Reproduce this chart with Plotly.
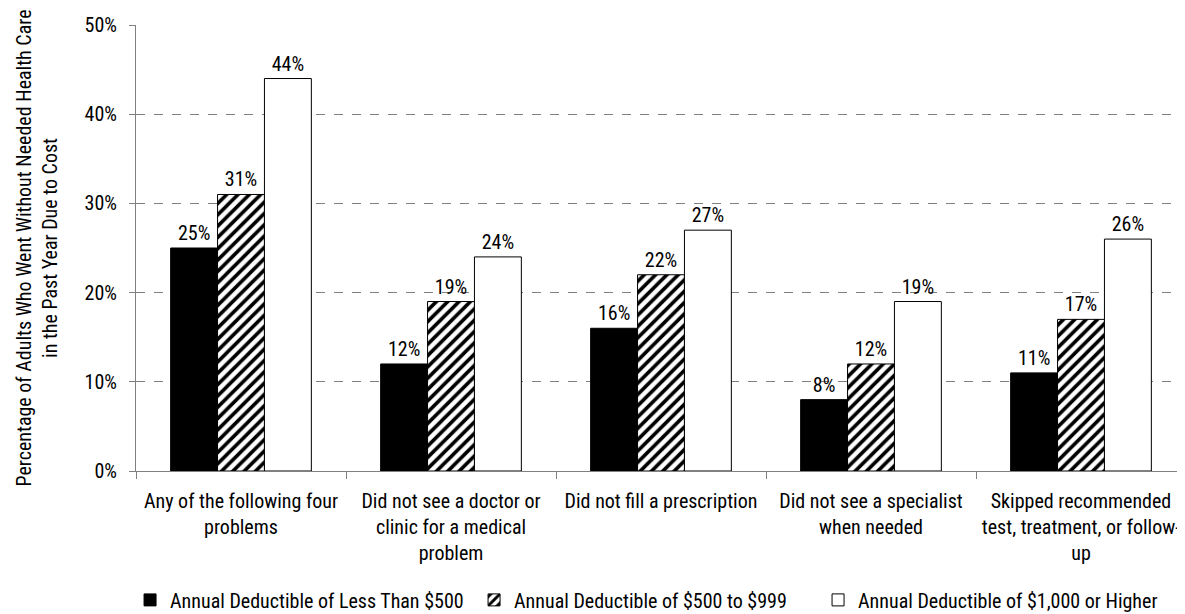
import plotly.graph_objects as go

categories = [
    "Any of the following four<br>problems",
    "Did not see a doctor or<br>clinic for a medical<br>problem",
    "Did not fill a prescription",
    "Did not see a specialist<br>when needed",
    "Skipped recommended<br>test, treatment, or follow-<br>up",
]
under_500 = [25, 12, 16, 8, 11]
from_500_to_999 = [31, 19, 22, 12, 17]
over_1000 = [44, 24, 27, 19, 26]
series_names = [
    "Annual Deductible of Less Than $500",
    "Annual Deductible of $500 to $999",
    "Annual Deductible of $1,000 or Higher",
]

FONT = "Roboto Condensed, Liberation Sans Narrow, sans-serif"

fig = go.Figure()

styles = [
    dict(color="black"),
    dict(color="white", pattern=dict(shape="/", fgcolor="black", bgcolor="white",
                                     size=8, solidity=0.45, fgopacity=1)),
    dict(color="white"),
]

for name, vals, st in zip(series_names, [under_500, from_500_to_999, over_1000], styles):
    fig.add_trace(go.Bar(
        x=categories,
        y=vals,
        name=name,
        text=[f"{v}%" for v in vals],
        textposition="outside",
        textfont=dict(family=FONT, size=20, color="black"),
        cliponaxis=False,
        marker=dict(line=dict(color="black", width=1), **st),
    ))

# the page body adds an 8px offset, so margins are shifted to compensate
fig.update_layout(
    barmode="group",
    bargap=0.33,
    bargroupgap=0,
    width=1185,
    height=614,
    plot_bgcolor="white",
    paper_bgcolor="white",
    margin=dict(l=128, r=7, t=17, b=151),
    font=dict(family=FONT, size=20, color="black"),
    showlegend=True,
    legend=dict(
        orientation="h",
        xref="container",
        yref="container",
        x=0.103,
        xanchor="left",
        y=0.036,
        yanchor="middle",
        font=dict(family=FONT, size=20),
        itemwidth=30,
        entrywidth=299,
    ),
    xaxis=dict(
        automargin=False,
        tickangle=0,
        showline=True,
        linecolor="#808080",
        linewidth=1,
        ticks="outside",
        ticklen=7,
        tickcolor="#808080",
        tickson="boundaries",
        ticklabelstandoff=12,
        tickfont=dict(family=FONT, size=20),
    ),
    yaxis=dict(
        automargin=False,
        range=[0, 50],
        dtick=10,
        ticksuffix="%",
        showline=True,
        linecolor="#808080",
        ticks="outside",
        ticklen=6,
        tickcolor="#808080",
        ticklabelstandoff=8,
        showgrid=True,
        gridcolor="#808080",
        griddash="dash",
        gridwidth=1,
        zeroline=False,
        tickfont=dict(family=FONT, size=20),
        title=dict(
            text="Percentage of Adults Who Went Without Needed Health Care<br>in the Past Year Due to Cost",
            font=dict(family=FONT, size=20),
            standoff=21,
        ),
    ),
)

fig.write_html("out.html")
